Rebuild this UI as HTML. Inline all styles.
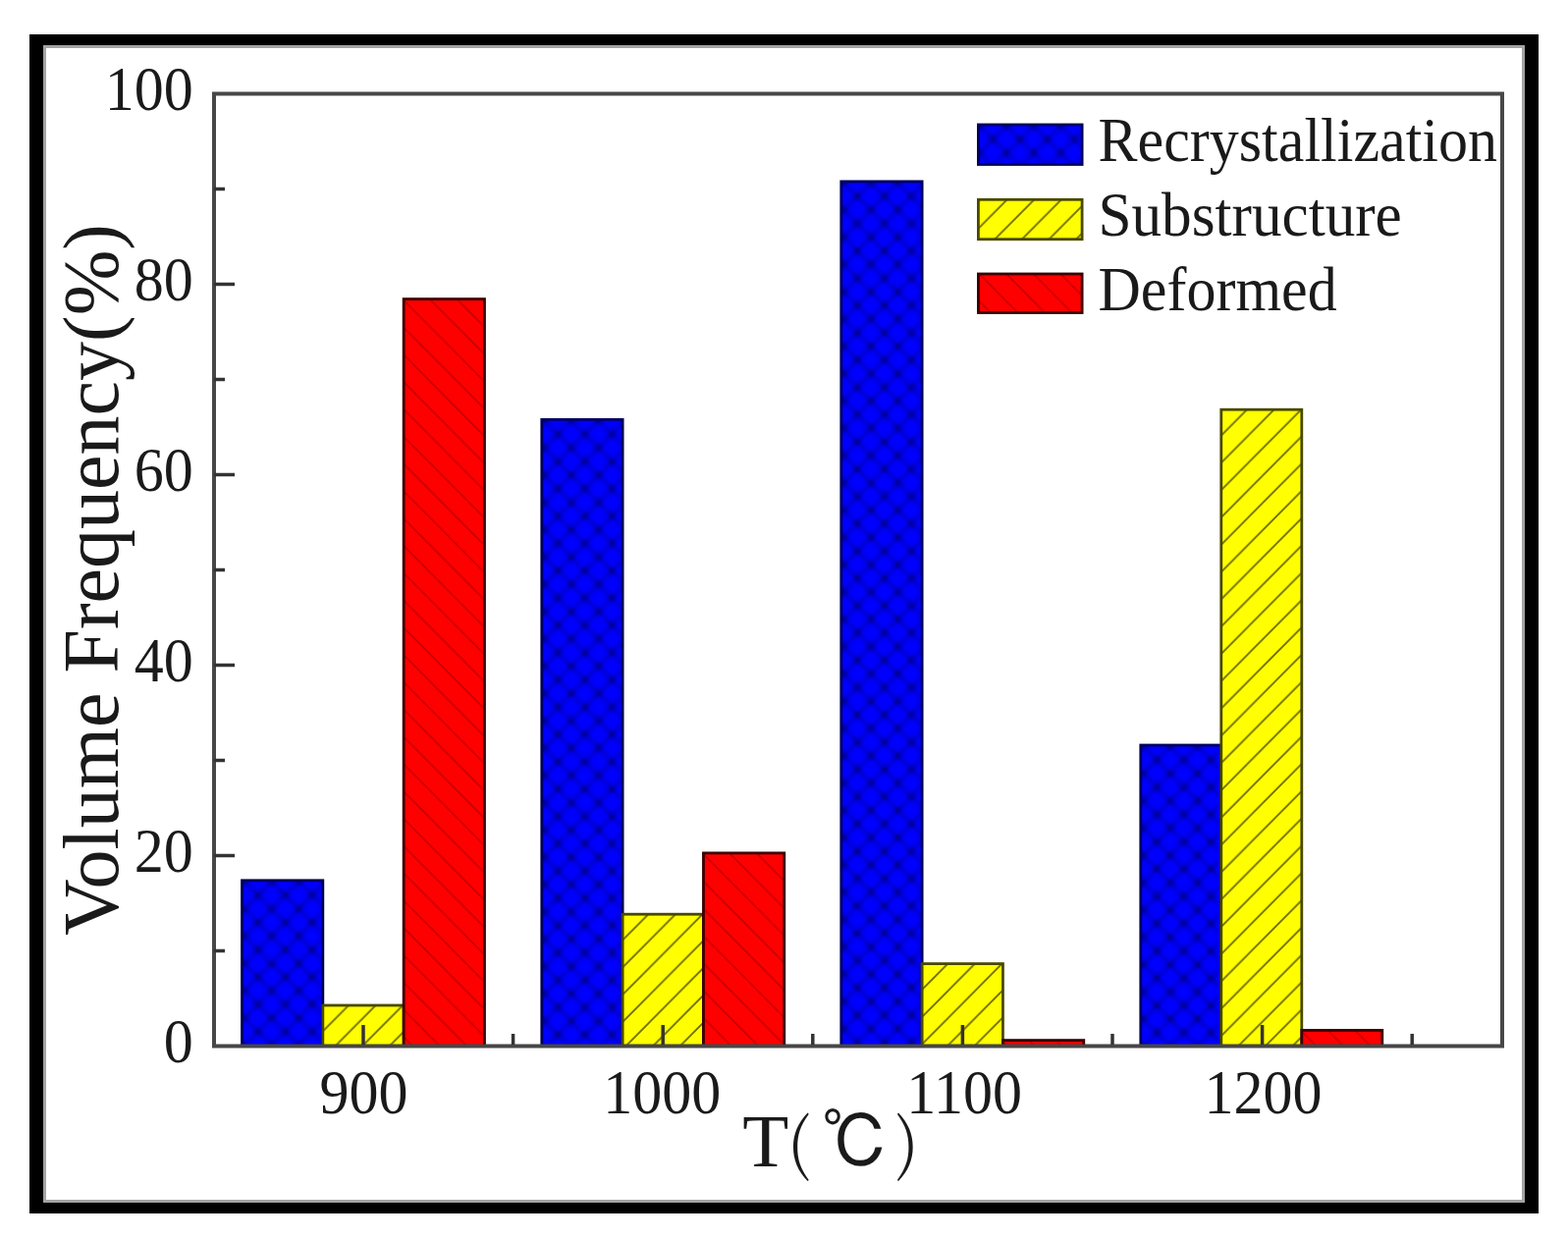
<!DOCTYPE html>
<html><head><meta charset="utf-8"><title>Volume Frequency chart</title>
<style>
html,body{margin:0;padding:0;background:#fff;}
body{width:1597px;height:1262px;overflow:hidden;}
svg{display:block;}
text{font-family:'Liberation Serif', 'Times New Roman', serif;fill:#1a1a1a;}
.cjk{font-family:'Noto Serif CJK SC', serif;font-weight:300;}
.ipa{font-family:'IPAGothic','Noto Sans CJK JP',sans-serif;}
</style></head><body>
<svg width="1597" height="1262" viewBox="0 0 1597 1262">
<defs>
<pattern id="p00" patternUnits="userSpaceOnUse" x="249.00" y="897.80" width="27.6" height="27.8"><rect width="27.6" height="27.8" fill="#0000ff"/><g filter="url(#pblur)"><path d="M-27.6 -27.8L55.2 55.6M-41.400000000000006 -13.9L41.400000000000006 69.5M-13.8 -41.7L69.0 41.7M-27.6 55.6L55.2 -27.8M-41.400000000000006 41.7L41.400000000000006 -41.7M-13.8 69.5L69.0 -13.9" stroke="#000040" stroke-width="2.2" stroke-opacity="0.45" fill="none"/><circle cx="0" cy="0" r="3.4" fill="#000040" fill-opacity="0.5"/><circle cx="27.6" cy="0" r="3.4" fill="#000040" fill-opacity="0.5"/><circle cx="0" cy="27.8" r="3.4" fill="#000040" fill-opacity="0.5"/><circle cx="27.6" cy="27.8" r="3.4" fill="#000040" fill-opacity="0.5"/><circle cx="13.8" cy="13.9" r="3.4" fill="#000040" fill-opacity="0.5"/></g></pattern>
<pattern id="p01" patternUnits="userSpaceOnUse" x="328.83" y="1022.60" width="27.6" height="27.8"><rect width="27.6" height="27.8" fill="#ffff00"/><path d="M0 27.8L27.6 0M-13.8 13.9L13.8 -13.9M13.8 41.7L41.400000000000006 13.9" stroke="#666600" stroke-width="1.7"/></pattern>
<pattern id="p02" patternUnits="userSpaceOnUse" x="411.16" y="305.70" width="27.6" height="27.8"><rect width="27.6" height="27.8" fill="#ff0000"/><path d="M0 0L27.6 27.8M-13.8 13.9L13.8 41.7M13.8 -13.9L41.400000000000006 13.9" stroke="#c00000" stroke-width="1.5"/></pattern>
<pattern id="p10" patternUnits="userSpaceOnUse" x="554.30" y="428.30" width="27.6" height="27.8"><rect width="27.6" height="27.8" fill="#0000ff"/><g filter="url(#pblur)"><path d="M-27.6 -27.8L55.2 55.6M-41.400000000000006 -13.9L41.400000000000006 69.5M-13.8 -41.7L69.0 41.7M-27.6 55.6L55.2 -27.8M-41.400000000000006 41.7L41.400000000000006 -41.7M-13.8 69.5L69.0 -13.9" stroke="#000040" stroke-width="2.2" stroke-opacity="0.45" fill="none"/><circle cx="0" cy="0" r="3.4" fill="#000040" fill-opacity="0.5"/><circle cx="27.6" cy="0" r="3.4" fill="#000040" fill-opacity="0.5"/><circle cx="0" cy="27.8" r="3.4" fill="#000040" fill-opacity="0.5"/><circle cx="27.6" cy="27.8" r="3.4" fill="#000040" fill-opacity="0.5"/><circle cx="13.8" cy="13.9" r="3.4" fill="#000040" fill-opacity="0.5"/></g></pattern>
<pattern id="p11" patternUnits="userSpaceOnUse" x="634.13" y="929.80" width="27.6" height="27.8"><rect width="27.6" height="27.8" fill="#ffff00"/><path d="M0 27.8L27.6 0M-13.8 13.9L13.8 -13.9M13.8 41.7L41.400000000000006 13.9" stroke="#666600" stroke-width="1.7"/></pattern>
<pattern id="p12" patternUnits="userSpaceOnUse" x="716.46" y="870.00" width="27.6" height="27.8"><rect width="27.6" height="27.8" fill="#ff0000"/><path d="M0 0L27.6 27.8M-13.8 13.9L13.8 41.7M13.8 -13.9L41.400000000000006 13.9" stroke="#c00000" stroke-width="1.5"/></pattern>
<pattern id="p20" patternUnits="userSpaceOnUse" x="859.30" y="185.90" width="27.6" height="27.8"><rect width="27.6" height="27.8" fill="#0000ff"/><g filter="url(#pblur)"><path d="M-27.6 -27.8L55.2 55.6M-41.400000000000006 -13.9L41.400000000000006 69.5M-13.8 -41.7L69.0 41.7M-27.6 55.6L55.2 -27.8M-41.400000000000006 41.7L41.400000000000006 -41.7M-13.8 69.5L69.0 -13.9" stroke="#000040" stroke-width="2.2" stroke-opacity="0.45" fill="none"/><circle cx="0" cy="0" r="3.4" fill="#000040" fill-opacity="0.5"/><circle cx="27.6" cy="0" r="3.4" fill="#000040" fill-opacity="0.5"/><circle cx="0" cy="27.8" r="3.4" fill="#000040" fill-opacity="0.5"/><circle cx="27.6" cy="27.8" r="3.4" fill="#000040" fill-opacity="0.5"/><circle cx="13.8" cy="13.9" r="3.4" fill="#000040" fill-opacity="0.5"/></g></pattern>
<pattern id="p21" patternUnits="userSpaceOnUse" x="939.13" y="980.20" width="27.6" height="27.8"><rect width="27.6" height="27.8" fill="#ffff00"/><path d="M0 27.8L27.6 0M-13.8 13.9L13.8 -13.9M13.8 41.7L41.400000000000006 13.9" stroke="#666600" stroke-width="1.7"/></pattern>
<pattern id="p22" patternUnits="userSpaceOnUse" x="1021.46" y="1060.70" width="27.6" height="27.8"><rect width="27.6" height="27.8" fill="#ff0000"/><path d="M0 0L27.6 27.8M-13.8 13.9L13.8 41.7M13.8 -13.9L41.400000000000006 13.9" stroke="#c00000" stroke-width="1.5"/></pattern>
<pattern id="p30" patternUnits="userSpaceOnUse" x="1164.30" y="760.00" width="27.6" height="27.8"><rect width="27.6" height="27.8" fill="#0000ff"/><g filter="url(#pblur)"><path d="M-27.6 -27.8L55.2 55.6M-41.400000000000006 -13.9L41.400000000000006 69.5M-13.8 -41.7L69.0 41.7M-27.6 55.6L55.2 -27.8M-41.400000000000006 41.7L41.400000000000006 -41.7M-13.8 69.5L69.0 -13.9" stroke="#000040" stroke-width="2.2" stroke-opacity="0.45" fill="none"/><circle cx="0" cy="0" r="3.4" fill="#000040" fill-opacity="0.5"/><circle cx="27.6" cy="0" r="3.4" fill="#000040" fill-opacity="0.5"/><circle cx="0" cy="27.8" r="3.4" fill="#000040" fill-opacity="0.5"/><circle cx="27.6" cy="27.8" r="3.4" fill="#000040" fill-opacity="0.5"/><circle cx="13.8" cy="13.9" r="3.4" fill="#000040" fill-opacity="0.5"/></g></pattern>
<pattern id="p31" patternUnits="userSpaceOnUse" x="1243.80" y="415.80" width="27.6" height="27.8"><rect width="27.6" height="27.8" fill="#ffff00"/><path d="M0 27.8L27.6 0M-13.8 13.9L13.8 -13.9M13.8 41.7L41.400000000000006 13.9" stroke="#666600" stroke-width="1.7"/></pattern>
<pattern id="p32" patternUnits="userSpaceOnUse" x="1325.80" y="1050.50" width="27.6" height="27.8"><rect width="27.6" height="27.8" fill="#ff0000"/><path d="M0 0L27.6 27.8M-13.8 13.9L13.8 41.7M13.8 -13.9L41.400000000000006 13.9" stroke="#c00000" stroke-width="1.5"/></pattern>
<pattern id="L0" patternUnits="userSpaceOnUse" x="997.50" y="128.00" width="27.6" height="27.8"><rect width="27.6" height="27.8" fill="#0000ff"/><g filter="url(#pblur)"><path d="M-27.6 -27.8L55.2 55.6M-41.400000000000006 -13.9L41.400000000000006 69.5M-13.8 -41.7L69.0 41.7M-27.6 55.6L55.2 -27.8M-41.400000000000006 41.7L41.400000000000006 -41.7M-13.8 69.5L69.0 -13.9" stroke="#000040" stroke-width="2.2" stroke-opacity="0.45" fill="none"/><circle cx="0" cy="0" r="3.4" fill="#000040" fill-opacity="0.5"/><circle cx="27.6" cy="0" r="3.4" fill="#000040" fill-opacity="0.5"/><circle cx="0" cy="27.8" r="3.4" fill="#000040" fill-opacity="0.5"/><circle cx="27.6" cy="27.8" r="3.4" fill="#000040" fill-opacity="0.5"/><circle cx="13.8" cy="13.9" r="3.4" fill="#000040" fill-opacity="0.5"/></g></pattern>
<pattern id="L1" patternUnits="userSpaceOnUse" x="999.50" y="201.90" width="27.6" height="27.8"><rect width="27.6" height="27.8" fill="#ffff00"/><path d="M0 27.8L27.6 0M-13.8 13.9L13.8 -13.9M13.8 41.7L41.400000000000006 13.9" stroke="#666600" stroke-width="1.7"/></pattern>
<pattern id="L2" patternUnits="userSpaceOnUse" x="998.50" y="280.10" width="27.6" height="27.8"><rect width="27.6" height="27.8" fill="#ff0000"/><path d="M0 0L27.6 27.8M-13.8 13.9L13.8 41.7M13.8 -13.9L41.400000000000006 13.9" stroke="#c00000" stroke-width="1.5"/></pattern>
<filter id="pblur" filterUnits="userSpaceOnUse" x="-60" y="-60" width="120" height="120"><feGaussianBlur stdDeviation="2.0"/></filter>
<filter id="soft" x="-2%" y="-2%" width="104%" height="104%"><feGaussianBlur stdDeviation="0.6"/></filter>
</defs>
<!-- outer frame -->
<rect x="30" y="35" width="1537" height="1201" fill="#000"/>
<rect x="44" y="46" width="1509" height="1179" fill="#a3a3a3"/>
<rect x="47" y="49" width="1503" height="1173" fill="#fff"/>
<!-- bars -->
<g filter="url(#soft)">
<rect x="246.50" y="896.80" width="82.33" height="168.70" fill="url(#p00)" stroke="#00005a" stroke-width="2.8"/>
<rect x="328.83" y="1024.00" width="82.33" height="41.50" fill="url(#p01)" stroke="#4a4a00" stroke-width="2.8"/>
<rect x="411.16" y="304.60" width="82.33" height="760.90" fill="url(#p02)" stroke="#3a0000" stroke-width="2.8"/>
<rect x="551.80" y="427.30" width="82.33" height="638.20" fill="url(#p10)" stroke="#00005a" stroke-width="2.8"/>
<rect x="634.13" y="931.20" width="82.33" height="134.30" fill="url(#p11)" stroke="#4a4a00" stroke-width="2.8"/>
<rect x="716.46" y="868.90" width="82.33" height="196.60" fill="url(#p12)" stroke="#3a0000" stroke-width="2.8"/>
<rect x="856.80" y="184.90" width="82.33" height="880.60" fill="url(#p20)" stroke="#00005a" stroke-width="2.8"/>
<rect x="939.13" y="981.60" width="82.33" height="83.90" fill="url(#p21)" stroke="#4a4a00" stroke-width="2.8"/>
<rect x="1021.46" y="1059.60" width="82.33" height="5.90" fill="url(#p22)" stroke="#3a0000" stroke-width="2.8"/>
<rect x="1161.80" y="759.00" width="82.00" height="306.50" fill="url(#p30)" stroke="#00005a" stroke-width="2.8"/>
<rect x="1243.80" y="417.20" width="82.00" height="648.30" fill="url(#p31)" stroke="#4a4a00" stroke-width="2.8"/>
<rect x="1325.80" y="1049.40" width="82.00" height="16.10" fill="url(#p32)" stroke="#3a0000" stroke-width="2.8"/>
<rect x="996.40" y="127.00" width="105.70" height="40.50" fill="url(#L0)" stroke="#00005a" stroke-width="2.8"/>
<rect x="996.40" y="203.30" width="105.70" height="40.40" fill="url(#L1)" stroke="#4a4a00" stroke-width="2.8"/>
<rect x="996.40" y="279.00" width="105.70" height="39.50" fill="url(#L2)" stroke="#3a0000" stroke-width="2.8"/>
</g>
<!-- axes box -->
<rect x="218" y="95.5" width="1312" height="970" fill="none" stroke="#474747" stroke-width="4"/>
<line x1="218" y1="968.50" x2="229" y2="968.50" stroke="#333" stroke-width="3.5"/>
<line x1="218" y1="871.50" x2="239" y2="871.50" stroke="#333" stroke-width="3.5"/>
<line x1="218" y1="774.50" x2="229" y2="774.50" stroke="#333" stroke-width="3.5"/>
<line x1="218" y1="677.50" x2="239" y2="677.50" stroke="#333" stroke-width="3.5"/>
<line x1="218" y1="580.50" x2="229" y2="580.50" stroke="#333" stroke-width="3.5"/>
<line x1="218" y1="483.50" x2="239" y2="483.50" stroke="#333" stroke-width="3.5"/>
<line x1="218" y1="386.50" x2="229" y2="386.50" stroke="#333" stroke-width="3.5"/>
<line x1="218" y1="289.50" x2="239" y2="289.50" stroke="#333" stroke-width="3.5"/>
<line x1="218" y1="192.50" x2="229" y2="192.50" stroke="#333" stroke-width="3.5"/>
<line x1="370.00" y1="1064" x2="370.00" y2="1044" stroke="#333" stroke-width="3.5"/>
<line x1="522.60" y1="1064" x2="522.60" y2="1053" stroke="#333" stroke-width="3.5"/>
<line x1="675.20" y1="1064" x2="675.20" y2="1044" stroke="#333" stroke-width="3.5"/>
<line x1="827.80" y1="1064" x2="827.80" y2="1053" stroke="#333" stroke-width="3.5"/>
<line x1="980.40" y1="1064" x2="980.40" y2="1044" stroke="#333" stroke-width="3.5"/>
<line x1="1133.00" y1="1064" x2="1133.00" y2="1053" stroke="#333" stroke-width="3.5"/>
<line x1="1285.60" y1="1064" x2="1285.60" y2="1044" stroke="#333" stroke-width="3.5"/>
<line x1="1438.20" y1="1064" x2="1438.20" y2="1053" stroke="#333" stroke-width="3.5"/>
<text font-size="60" text-anchor="end" transform="translate(196.80 1081.50) scale(1.0 1.07)">0</text>
<text font-size="60" text-anchor="end" transform="translate(196.80 887.50) scale(1.0 1.07)">20</text>
<text font-size="60" text-anchor="end" transform="translate(196.80 693.50) scale(1.0 1.07)">40</text>
<text font-size="60" text-anchor="end" transform="translate(196.80 499.50) scale(1.0 1.07)">60</text>
<text font-size="60" text-anchor="end" transform="translate(196.80 305.50) scale(1.0 1.07)">80</text>
<text font-size="60" text-anchor="end" transform="translate(196.80 111.50) scale(1.0 1.07)">100</text>
<text font-size="60" text-anchor="middle" transform="translate(370.60 1133.50) scale(1.0 1.07)">900</text>
<text font-size="60" text-anchor="middle" transform="translate(674.30 1133.50) scale(1.0 1.07)">1000</text>
<text font-size="60" text-anchor="middle" transform="translate(982.10 1133.50) scale(1.0 1.07)">1100</text>
<text font-size="60" text-anchor="middle" transform="translate(1286.45 1133.50) scale(1.0 1.07)">1200</text>
<!-- legend text -->
<text font-size="60" transform="translate(1118.50 164.30) scale(1.0 1.045)">Recrystallization</text>
<text font-size="60" transform="translate(1118.50 240.00) scale(1.02 1.045)">Substructure</text>
<text font-size="60" transform="translate(1118.50 315.60) scale(1.0 1.045)">Deformed</text>
<!-- axis titles -->
<g transform="translate(119.5 953) rotate(-90)">
<text font-size="80" x="0" y="0">Volume Frequency(%)</text>
</g>
<text font-size="77" x="756.2" y="1188.2">T</text>
<text class="cjk" font-size="67" x="801.8" y="1188.2">(</text>
<text class="ipa" font-size="69" transform="translate(836.80 1190.20) scale(1.0 1.07)">℃</text>
<text class="cjk" font-size="67" x="911.9" y="1188.2">)</text>
</svg>
</body></html>
